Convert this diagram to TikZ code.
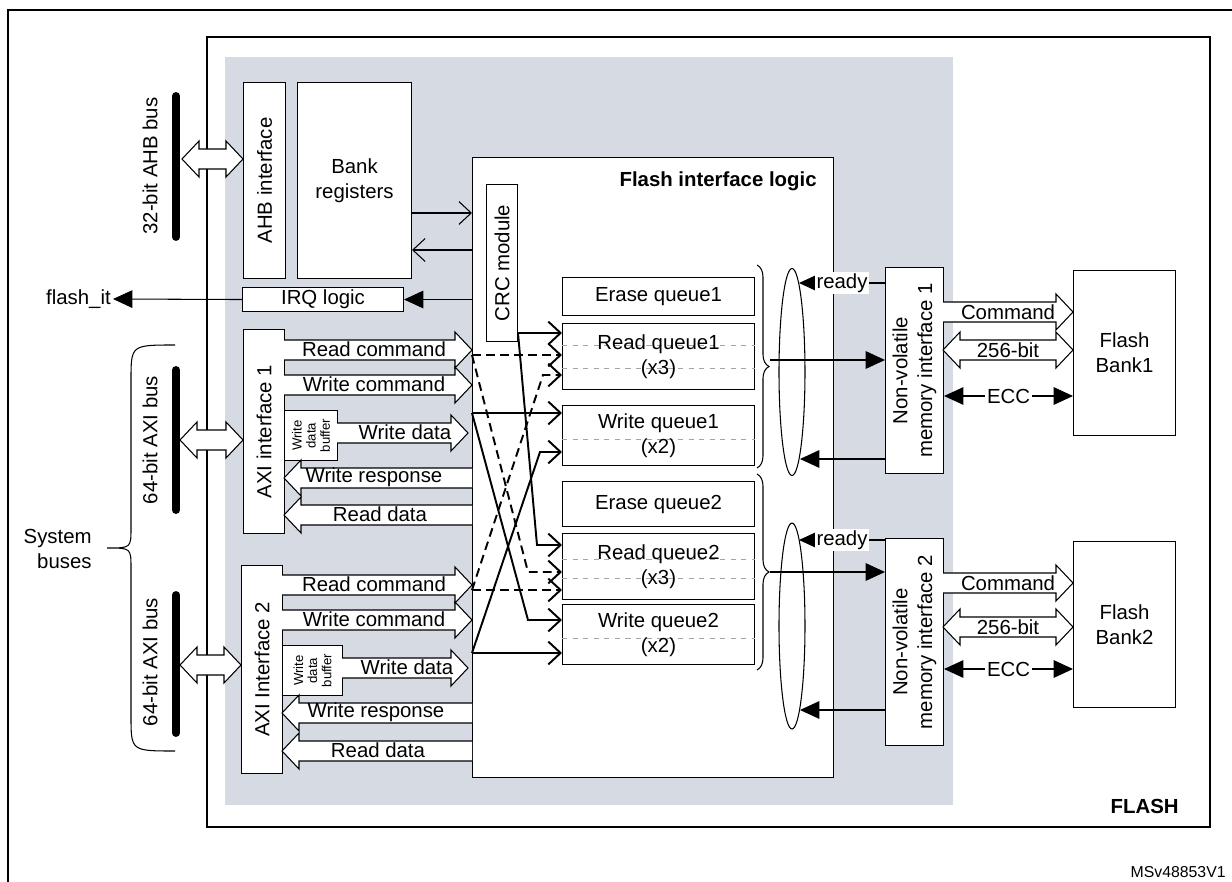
\documentclass[tikz,border=0pt]{standalone}
\usepackage{fontspec}
\setmainfont{Liberation Sans}
\usetikzlibrary{arrows.meta,shapes.geometric,decorations.pathreplacing}

\definecolor{panel fill}{RGB}{214,219,227}
\definecolor{queue line}{RGB}{165,165,165}

% hollow bus arrows: tail x, tip x, y
\newcommand\busright[3]{\draw[fill=white] (#1,#3-10) -- (#2-17,#3-10) -- (#2-17,#3-18) -- (#2,#3) -- (#2-17,#3+18) -- (#2-17,#3+10) -- (#1,#3+10);}
\newcommand\busleft[3]{\draw[fill=white] (#2,#3-10) -- (#1+17,#3-10) -- (#1+17,#3-18) -- (#1,#3) -- (#1+17,#3+18) -- (#1+17,#3+10) -- (#2,#3+10);}
\newcommand\busboth[3]{\draw[fill=white] (#1,#3) -- (#1+17,#3-18) -- (#1+17,#3-10) -- (#2-17,#3-10) -- (#2-17,#3-18) -- (#2,#3) -- (#2-17,#3+18) -- (#2-17,#3+10) -- (#1+17,#3+10) -- (#1+17,#3+18) -- cycle;}

\tikzset{
	block/.style={draw, fill=white, inner sep=0, anchor=north west},
	queue/.style={block, minimum width=3.84cm},
	tipped/.style={-{Triangle[length=11pt,width=10pt]}},
	bar/.style={line width=4.5pt, line cap=round},
}

\begin{document}
\begin{tikzpicture}[x=0.02cm, y=-0.02cm, font=\fontsize{11.6}{14}\selectfont, line width=0.6pt,
	>={Straight Barb[length=7pt,width=13pt]}]
	\useasboundingbox (0,0) rectangle (1232,882);
	\draw [line width=1.2pt] (8,882) -- (8,10) -- (1232,10);
	\draw [line width=1.2pt] (207,37) rectangle (1210,827);
	\fill [panel fill] (225,57) rectangle (953,805);
	\node at (1185,806) [anchor=east, font=\fontsize{11.6}{13}\selectfont\bfseries] {FLASH};
	\node at (1232,872) [anchor=east, font=\fontsize{9}{11}\selectfont] {MSv48853V1};

	% system buses
	\draw [bar] (176,96) -- (176,237);
	\draw [bar] (176,370) -- (176,510);
	\draw [bar] (176,595) -- (176,733);
	\node at (150,166) [rotate=90] {32-bit AHB bus};
	\node at (150,440) [rotate=90] {64-bit AXI bus};
	\node at (150,662) [rotate=90] {64-bit AXI bus};
	\draw (175,345) .. controls (131,345) .. (131,380) -- (131,528) .. controls (131,548) .. (107,548)
		.. controls (131,548) .. (131,568) -- (131,716) .. controls (131,751) .. (175,751);
	\node at (98,549) [anchor=east, align=right] {System\\buses};

	% left blocks
	\node [block, minimum width=0.84cm, minimum height=3.92cm] (ahb) at (243,82) {};
	\node [rotate=90] at (ahb) {AHB interface};
	\node [block, minimum width=2.28cm, minimum height=3.92cm, align=center] (bankreg) at (297,82) {Bank\\registers};
	\node [block, minimum width=3.22cm, minimum height=0.48cm] (irq) at (242,287) {IRQ logic};
	\node [block, minimum width=0.82cm, minimum height=4.08cm] (axi1) at (243,329) {};
	\node [rotate=90] at (axi1) {AXI interface 1};
	\node [block, minimum width=0.82cm, minimum height=4.16cm] (axi2) at (241,565) {};
	\node [rotate=90] at (axi2) {AXI Interface 2};
	\busboth{182}{243}{159}
	\busboth{180}{243}{440}
	\busboth{180}{241}{665}

	% flash interface logic
	\node [block, minimum width=7.22cm, minimum height=12.4cm] (logic) at (472,157) {};
	\node at (823,181) [anchor=east, font=\fontsize{11.6}{13}\selectfont\bfseries] {Flash interface logic};
	\node [block, minimum width=0.62cm, minimum height=3.14cm] (crc) at (486,184) {};
	\node [rotate=90] at (crc) {CRC module};

	\draw [->] (bankreg.east |- 0,213) -- (logic.west |- 0,213);
	\draw [->] (logic.west |- 0,250) -- (bankreg.east |- 0,250);
	\draw [tipped] (logic.west |- irq) -- (irq.east);
	\draw [tipped] (irq.west) -- (113,299) node [anchor=east, inner sep=1pt] (flashit) {flash\_it};

	% AXI interface 1 channels
	\node [block, minimum width=1.06cm, minimum height=1cm] (buf1) at (284,410) {};
	\node [rotate=90, align=center, font=\fontsize{7.5}{8}\selectfont] at (buf1) {Write\\data\\buffer};
	\busright{284}{472}{350} \node at (374,349) {Read command};
	\busright{284}{472}{385} \node at (374,384) {Write command};
	\busright{337}{468}{433} \node at (405,432) {Write data};
	\busleft{284}{472}{478} \node at (374,477) {Write response};
	\busleft{284}{472}{515} \node at (380,514) {Read data};

	% AXI interface 2 channels
	\node [block, minimum width=1.2cm, minimum height=1cm] (buf2) at (282,645) {};
	\node [rotate=90, align=center, font=\fontsize{7.5}{8}\selectfont] at (buf2) {Write\\data\\buffer};
	\busright{282}{472}{585} \node at (374,584) {Read command};
	\busright{282}{472}{620} \node at (374,619) {Write command};
	\busright{342}{468}{668} \node at (407,667) {Write data};
	\busleft{282}{472}{713} \node at (376,712) {Write response};
	\busleft{282}{472}{751} \node at (378,750) {Read data};

	% queues
	\node [queue, minimum height=0.76cm] (eq1) at (562,277) {Erase queue1};
	\node [queue, minimum height=1.32cm] (rq1) at (562,323) {};
	\node [queue, minimum height=1.2cm] (wq1) at (562,405) {};
	\node [queue, minimum height=0.9cm] (eq2) at (562,481) {Erase queue2};
	\node [queue, minimum height=1.32cm] (rq2) at (562,533) {};
	\node [queue, minimum height=1.2cm] (wq2) at (562,604) {};
	\foreach \q/\y in {rq1/345, rq1/368, wq1/439, rq2/559, rq2/578, wq2/638}
		\draw [queue line, dashed, line width=0.5pt] (\q.west |- 0,\y) -- (\q.east |- 0,\y);
	\node [align=center] at (rq1) {Read queue1\\(x3)};
	\node [align=center] at (wq1) {Write queue1\\(x2)};
	\node [align=center] at (rq2) {Read queue2\\(x3)};
	\node [align=center] at (wq2) {Write queue2\\(x2)};

	% routing to queues
	\coordinate (rc1) at (472,355);
	\coordinate (rc2) at (472,590);
	\coordinate (wc1) at (472,413);
	\coordinate (wc2) at (472,653);
	\coordinate (crcout) at (518,333);
	\begin{scope}[line width=1.1pt]
		\draw [->, dash pattern=on 5pt off 3pt] (rc1) -- (rq1.west |- rc1);
		\draw [->, dash pattern=on 5pt off 3pt] (rc1) -- (528,572) -- (rq2.west |- 0,572);
		\draw [->, dash pattern=on 5pt off 3pt] (rc2) -- (rq2.west |- rc2);
		\draw [->, dash pattern=on 5pt off 3pt] (rc2) -- (543,375) -- (rq1.west |- 0,375);
		\draw [->] (wc1) -- (wq1.west |- wc1);
		\draw [->] (wc1) -- (528,620) -- (wq2.west |- 0,620);
		\draw [->] (wc2) -- (wq2.west |- wc2);
		\draw [->] (wc2) -- (540,452) -- (wq1.west |- 0,452);
		\draw [->] (crcout) -- (rq1.west |- crcout);
		\draw [->] (crcout) -- (537,545) -- (rq2.west |- 0,545);
	\end{scope}

	\draw [decorate, decoration={brace, amplitude=0.24cm}] (757,265) -- (757,468) coordinate [midway] (grp1);
	\draw [decorate, decoration={brace, amplitude=0.24cm}] (757,474) -- (757,670) coordinate [midway] (grp2);
	\node [draw, fill=white, ellipse, inner sep=0, minimum width=0.52cm, minimum height=4.14cm] (sel1) at (792,372) {};
	\node [draw, fill=white, ellipse, inner sep=0, minimum width=0.52cm, minimum height=4.12cm] (sel2) at (792,626) {};

	% non-volatile memory interfaces and banks
	\node [block, minimum width=1.16cm, minimum height=4.12cm] (nvi1) at (885,267) {};
	\node [rotate=90, align=center] at (nvi1) {Non-volatile\\memory interface 1};
	\node [block, minimum width=1.16cm, minimum height=4.14cm] (nvi2) at (885,538) {};
	\node [rotate=90, align=center] at (nvi2) {Non-volatile\\memory interface 2};
	\node [block, minimum width=2.04cm, minimum height=3.3cm, align=center] (bank1) at (1073,270) {Flash\\Bank1};
	\node [block, minimum width=2.04cm, minimum height=3.32cm, align=center] (bank2) at (1073,541) {Flash\\Bank2};

	\foreach \n/\s/\t/\r/\b/\c/\d/\e in {1/283/360/459/312/350/396/grp1, 2/540/572/710/583/627/669/grp2} {
		\draw [tipped] (nvi\n.west |- 0,\s) -- (799,\s) node [midway, fill=white, inner sep=1pt] {ready};
		\draw [tipped] (770,\t) -- (nvi\n.west |- 0,\t);
		\draw [tipped] (nvi\n.west |- 0,\r) -- (800,\r);
		\busright{943}{1073}{\b} \node at (1008,\b) {Command};
		\busboth{943}{1073}{\c} \node at (1008,\c) {256-bit};
		\draw [{Triangle[length=11pt,width=10pt]}-{Triangle[length=11pt,width=10pt]}] (nvi\n.east |- 0,\d) -- (bank\n.west |- 0,\d)
			node [midway, fill=white, inner sep=1pt] {ECC};
	}
\end{tikzpicture}
\end{document}
